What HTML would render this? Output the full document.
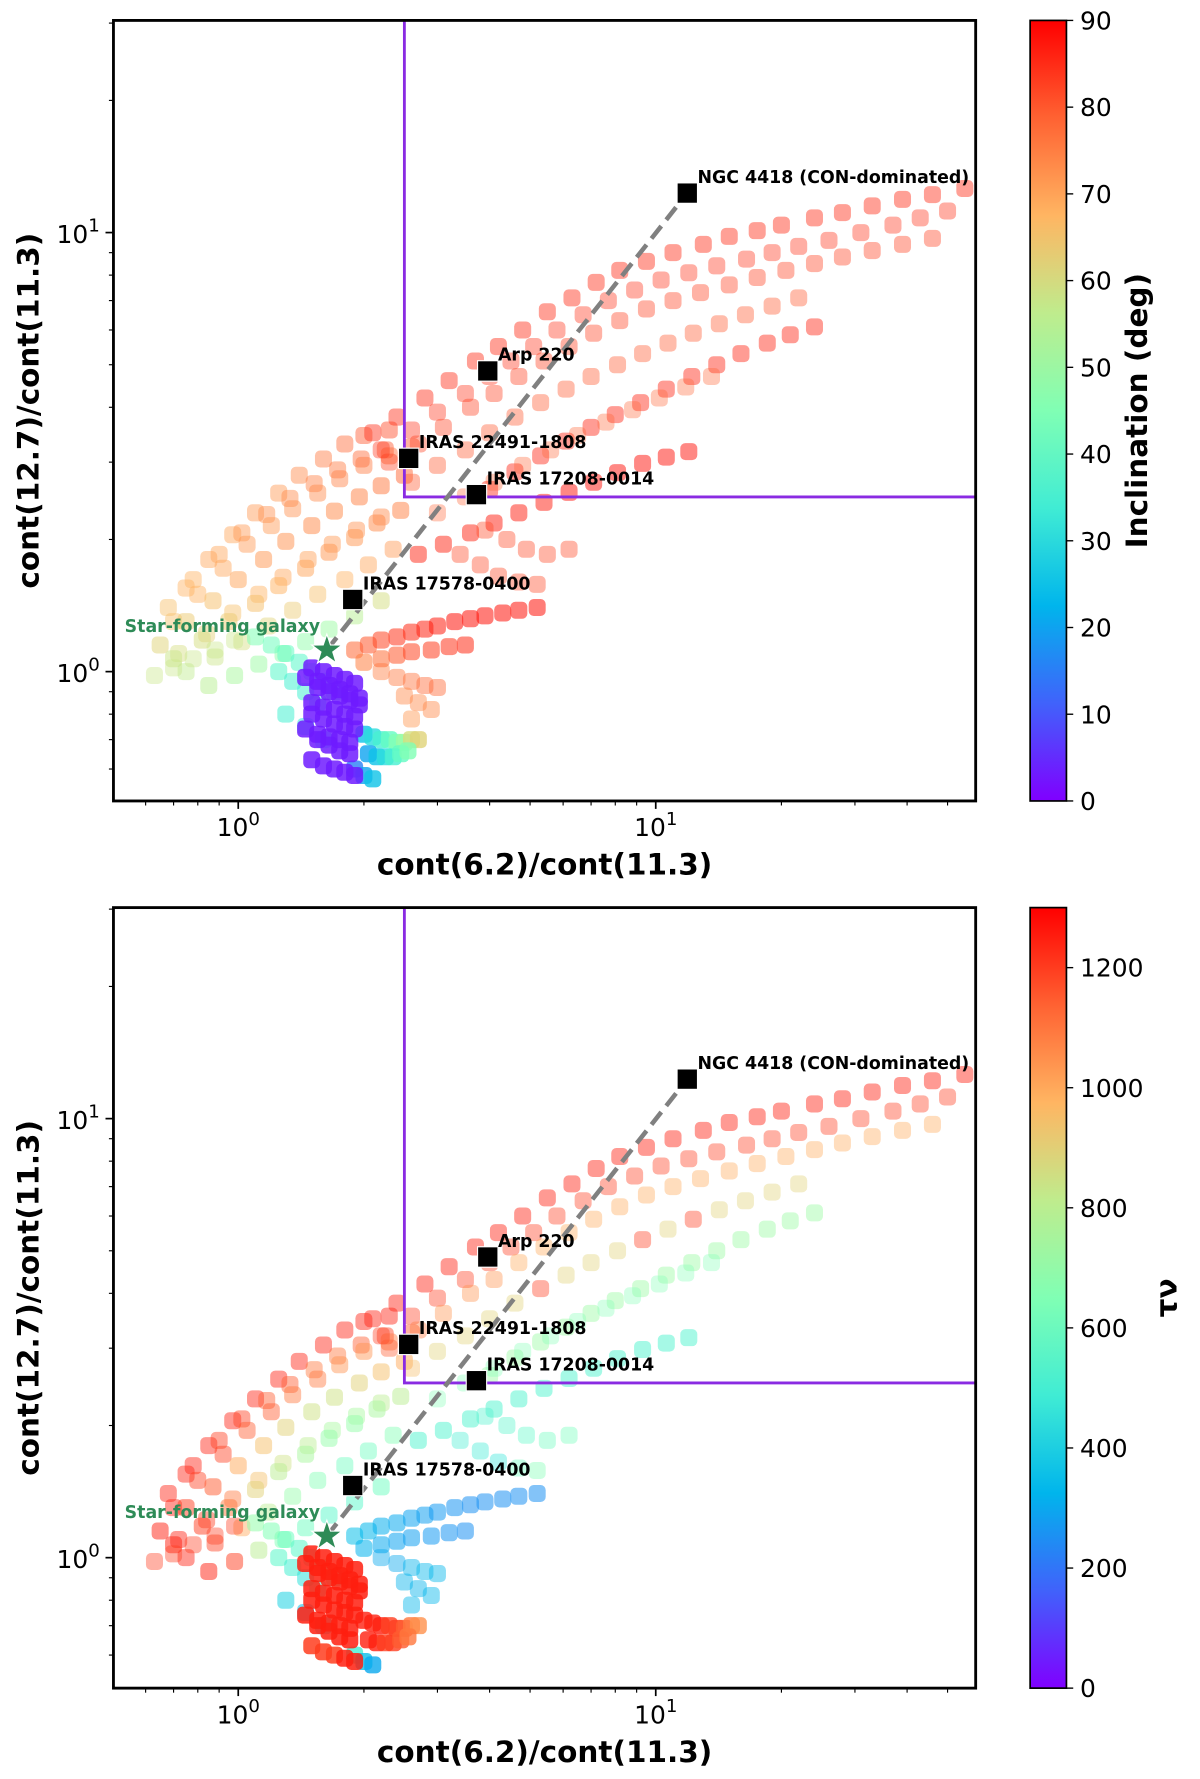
<!DOCTYPE html>
<html><head><meta charset="utf-8"><style>
html,body{margin:0;padding:0;background:#fff;}
svg{display:block;font-family:"DejaVu Sans","Liberation Sans",sans-serif;}
</style></head><body>
<svg id="fig" width="1200" height="1779" viewBox="0 0 1200 1779" xmlns="http://www.w3.org/2000/svg">
<defs>
<linearGradient id="rbw" x1="0" y1="1" x2="0" y2="0">
<stop offset="0" stop-color="rgb(128,0,255)"/><stop offset="0.125" stop-color="rgb(64,98,251)"/>
<stop offset="0.25" stop-color="rgb(0,181,236)"/><stop offset="0.375" stop-color="rgb(64,236,212)"/>
<stop offset="0.5" stop-color="rgb(128,255,180)"/><stop offset="0.625" stop-color="rgb(191,236,141)"/>
<stop offset="0.75" stop-color="rgb(255,181,98)"/><stop offset="0.875" stop-color="rgb(255,98,50)"/>
<stop offset="1" stop-color="rgb(255,0,0)"/>
</linearGradient>
</defs>
<g id="root" transform="scale(1.1345)"></g>
</svg>
<script>
// ---- data (groups of model points) ----
const g1X=[2.1,2.4,2.8,3.2,3.7,4.2,4.8,5.5,6.3,7.2,8.2,9.5,11,13,15,17.5,20,24,28,33,39,46,55];
const g1Y=[3.5,3.8,4.2,4.6,5.1,5.5,6.0,6.6,7.1,7.7,8.2,8.6,9.0,9.4,9.8,10.1,10.4,10.8,11.1,11.5,11.9,12.2,12.6];
const g1Inc=[85,85,85,85,85,85,85,85,85,85,85,85,85,85,85,85,85,85,85,85,85,85,85];
const g1Tau=[1250,1250,1250,1250,1250,1250,1250,1250,1250,1250,1250,1250,1250,1250,1250,1250,1250,1250,1250,1250,1250,1250,1250];
const g1bX=[2.2,2.6,3.0,3.5,4.0,4.5,5.1,5.8,6.7,7.7,8.9,10.3,12,14,16.5,19,22,26,31,37,43,50];
const g1bY=[3.2,3.55,3.9,4.3,4.7,5.1,5.5,6.0,6.5,7.0,7.4,7.8,8.1,8.4,8.7,9.0,9.3,9.6,10.0,10.4,10.8,11.2];
const g1bInc=[84,84,84,84,84,84,84,84,84,84,84,84,84,84,84,84,84,84,84,84,84,84];
const g1bTau=[1200,1200,1200,1200,1200,1200,1200,1200,1200,1200,1200,1200,1200,1200,1200,1200,1200,1200,1200,1200,1200,1200];
const g2X=[2.3,2.7,3.1,3.6,4.1,4.7,5.4,6.2,7.1,8.2,9.5,11,12.8,15,17.5,20.5,24,28,33,39,46];
const g2Y=[3.0,3.3,3.6,4.0,4.3,4.7,5.1,5.5,5.9,6.3,6.7,7.0,7.3,7.6,7.9,8.2,8.5,8.8,9.1,9.4,9.7];
const g2Inc=[83,83,83,83,83,83,83,83,83,83,83,83,83,83,83,83,83,83,83,83,83];
const g2Tau=[1150,1100,1050,1050,1050,1000,1000,1000,1000,1000,1000,1000,1000,1000,1000,1000,1000,1000,1000,1000,1000];
const g3X=[2.6,3.0,3.5,4.0,4.6,5.3,6.1,7.0,8.1,9.3,10.7,12.3,14.2,16.4,19,22];
const g3Y=[2.7,2.95,3.2,3.5,3.8,4.1,4.4,4.7,5.0,5.3,5.6,5.9,6.2,6.5,6.8,7.1];
const g3Inc=[80,80,80,80,80,80,80,80,80,80,80,80,80,80,80,80];
const g3Tau=[950,900,900,900,900,1200,900,900,900,1200,900,1200,900,900,900,900];
const g4X=[4.0,4.6,5.3,6.1,7.0,8.0,9.2,10.6,12.2,14,16,18.5,21,24];
const g4Y=[2.6,2.85,3.1,3.35,3.6,3.85,4.1,4.4,4.7,5.0,5.3,5.6,5.85,6.1];
const g4Inc=[86,86,86,86,86,86,86,86,86,86,86,86,86,86];
const g4Tau=[720,720,720,720,720,720,720,720,720,720,720,720,720,720];
const g5X=[3.0,3.5,4.1,4.8,5.6,6.5,7.6,8.8,10.2,11.8,13.6];
const g5Y=[2.3,2.5,2.7,2.95,3.2,3.45,3.7,3.95,4.2,4.45,4.7];
const g5Inc=[79,79,79,79,79,79,79,79,79,79,79];
const g5Tau=[650,650,650,650,650,650,650,650,650,650,650];
const g6X=[2.7,3.1,3.6,4.1,4.7,5.4,6.2,7.1,8.1,9.3,10.6,12];
const g6Y=[1.85,1.95,2.07,2.18,2.3,2.43,2.56,2.7,2.84,2.98,3.08,3.17];
const g6Inc=[86,86,86,87,87,87,88,88,88,88,88,88];
const g6Tau=[520,520,520,520,520,520,520,520,520,520,520,520];
const g7X=[3.4,3.8,4.2,4.7,5.2,3.9,4.4,4.9,5.5,6.2];
const g7Y=[1.85,1.75,1.65,1.6,1.58,2.1,2.0,1.9,1.85,1.9];
const g7Inc=[82,82,82,82,82,82,82,82,82,82];
const g7Tau=[500,480,460,600,650,520,540,560,600,620];
const faX=[0.75,0.85,0.97,1.1,1.25,1.4,1.6,1.8,2.0,2.3];
const faY=[1.55,1.8,2.05,2.3,2.55,2.8,3.05,3.3,3.45,3.55];
const faInc=[68,70,70,72,72,74,76,78,80,82];
const faTau=[1250,1250,1250,1250,1250,1250,1250,1250,1250,1250];
const fhX=[0.68,0.78,0.9,1.02,1.17,1.33,1.52,1.73,1.97,2.25];
const fhY=[1.4,1.62,1.85,2.07,2.28,2.48,2.68,2.88,3.05,3.2];
const fhInc=[66,68,70,72,73,74,75,76,78,80];
const fhTau=[1250,1250,1200,1200,1150,1150,1100,1100,1150,1200];
const fbX=[0.7,0.8,0.92,1.05,1.2,1.35,1.55,1.75,2.0,2.3,2.6];
const fbY=[1.3,1.5,1.72,1.95,2.15,2.35,2.55,2.75,2.95,3.1,3.25];
const fbInc=[66,68,70,72,72,73,74,75,76,78,80];
const fbTau=[1250,1200,1200,1150,1150,1100,1100,1050,1050,1100,1150];
const fcX=[0.65,0.75,0.87,1.0,1.15,1.3,1.5,1.7,1.95,2.2,2.5];
const fcY=[1.15,1.3,1.45,1.62,1.8,1.98,2.15,2.32,2.5,2.65,2.8];
const fcInc=[62,64,66,70,72,73,74,74,75,76,78];
const fcTau=[1250,1200,1150,1000,950,900,850,850,900,950,1000];
const fiX=[0.72,0.84,0.97,1.12,1.28,1.47,1.68,1.92,2.2];
const fiY=[1.1,1.22,1.36,1.5,1.64,1.8,1.95,2.1,2.25];
const fiInc=[60,63,66,68,70,71,72,73,74];
const fiTau=[1250,1200,1100,950,850,800,750,750,800];
const fdX=[0.7,0.82,0.95,1.1,1.25,1.45,1.65,1.9,2.15,2.45];
const fdY=[1.07,1.18,1.3,1.43,1.57,1.72,1.87,2.02,2.18,2.33];
const fdInc=[58,60,64,66,68,70,72,72,74,75];
const fdTau=[1250,1200,1100,900,800,750,700,700,750,800];
const feX=[0.75,0.88,1.02,1.18,1.35,1.55,1.8,2.05,2.35];
const feY=[1.0,1.08,1.17,1.27,1.38,1.5,1.62,1.75,1.9];
const feInc=[56,58,60,62,64,66,68,70,72];
const feTau=[1250,1200,1000,800,700,650,600,600,650];
const ffX=[0.85,0.98,1.12,1.28,1.45,1.65,1.9,2.2];
const ffY=[0.93,0.98,1.04,1.1,1.17,1.25,1.34,1.45];
const ffInc=[55,52,50,48,48,50,55,60];
const ffTau=[1250,1200,800,650,600,550,550,600];
const fgX=[0.63,0.7,0.78,0.88,0.98];
const fgY=[0.98,1.02,1.07,1.12,1.18];
const fgInc=[58,58,58,58,58];
const fgTau=[1200,1200,1200,1200,1200];
const g9X=[1.1,1.2,1.3,1.4,1.5,1.6,1.25,1.35,1.45,1.55,1.7,1.3,1.45,1.6];
const g9Y=[1.2,1.15,1.1,1.05,1.0,0.95,1.0,0.95,0.9,0.85,0.9,0.8,0.75,0.7];
const g9Inc=[45,42,40,38,40,42,38,35,35,38,40,35,32,35];
const g9Tau=[700,650,600,550,500,600,550,500,450,500,550,400,350,380];
const g12X=[1.9,2.05,2.2,2.4,2.6,2.8,3.0,3.3,3.6,3.9,4.3,4.7,5.2,2.0,2.2,2.4,2.6,2.9,3.2,3.5];
const g12Y=[1.12,1.15,1.18,1.2,1.23,1.25,1.27,1.3,1.32,1.34,1.36,1.38,1.4,1.05,1.07,1.09,1.11,1.12,1.14,1.15];
const g12Inc=[78,80,82,84,85,86,87,88,88,88,88,88,88,75,77,80,82,83,84,85];
const g12Tau=[350,330,310,300,290,280,270,260,250,250,250,250,250,320,300,290,280,270,260,250];
const g13X=[2.2,2.4,2.6,2.8,3.0,2.5,2.7,2.9,2.6];
const g13Y=[1.0,0.97,0.95,0.93,0.92,0.88,0.85,0.82,0.78];
const g13Inc=[75,76,77,78,78,74,74,74,72];
const g13Tau=[300,300,320,330,330,320,320,330,330];
const g11X=[2.0,2.1,2.2,2.3,2.4,2.5,2.6,2.7,2.05,2.15,2.25,2.35,2.45,2.55,1.9,2.0,2.1];
const g11Y=[0.72,0.71,0.7,0.7,0.69,0.69,0.7,0.7,0.65,0.64,0.64,0.64,0.65,0.66,0.6,0.58,0.57];
const g11Inc=[25,30,35,40,45,50,60,62,20,25,30,35,40,45,15,20,25];
const g11Tau=[1250,1250,1250,1200,1200,1150,1100,1050,1250,1250,1200,1200,1150,1100,500,350,300];
const g10X=[1.5,1.6,1.7,1.8,1.9,1.55,1.65,1.75,1.85,1.95,1.5,1.6,1.7,1.8,1.9,1.55,1.65,1.75,1.85,1.5,1.6,1.7,1.8,1.9];
const g10Y=[1.02,1.0,0.98,0.96,0.94,0.92,0.9,0.88,0.86,0.84,0.8,0.78,0.76,0.75,0.74,0.7,0.68,0.66,0.65,0.63,0.61,0.6,0.59,0.58];
const g10Inc=[3,3,3,3,3,3,3,3,3,3,3,3,3,3,3,3,3,3,3,3,3,3,3,3];
const g10Tau=[1250,1250,1250,1250,1250,1250,1250,1250,1250,1250,1250,1250,1250,1250,1250,1250,1250,1250,1250,1200,1200,1200,1250,1250];
const g10bX=[1.45,1.55,1.65,1.75,1.85,1.95,1.5,1.6,1.7,1.8,1.9,1.45,1.55,1.65,1.75,1.85];
const g10bY=[0.97,0.95,0.93,0.91,0.89,0.87,0.85,0.83,0.82,0.8,0.79,0.74,0.72,0.71,0.7,0.69];
const g10bInc=[3,3,3,3,3,3,3,3,3,3,3,3,3,3,3,3];
const g10bTau=[1250,1250,1250,1250,1250,1250,1250,1250,1250,1250,1250,1250,1250,1250,1250,1250];
const galNames=["NGC 4418 (CON-dominated)","Arp 220","IRAS 22491-1808","IRAS 17208-0014","IRAS 17578-0400"];
const galX=[11.9,3.96,2.56,3.72,1.88];
const galY=[12.3,4.84,3.06,2.53,1.46];
const starXY=[1.63,1.12];
const incTicks=[0,10,20,30,40,50,60,70,80,90];
const tauTicks=[0,200,400,600,800,1000,1200];

const groups=[[faX,faY,faInc,faTau,0.45],[fhX,fhY,fhInc,fhTau,0.45],[fbX,fbY,fbInc,fbTau,0.45],[fcX,fcY,fcInc,fcTau,0.5],[fiX,fiY,fiInc,fiTau,0.45],[fdX,fdY,fdInc,fdTau,0.5],
[feX,feY,feInc,feTau,0.45],[ffX,ffY,ffInc,ffTau,0.5],[fgX,fgY,fgInc,fgTau,0.4],[g1X,g1Y,g1Inc,g1Tau,0.45],[g1bX,g1bY,g1bInc,g1bTau,0.4],[g2X,g2Y,g2Inc,g2Tau,0.4],
[g3X,g3Y,g3Inc,g3Tau,0.4],[g4X,g4Y,g4Inc,g4Tau,0.45],[g5X,g5Y,g5Inc,g5Tau,0.35],[g6X,g6Y,g6Inc,g6Tau,0.5],[g7X,g7Y,g7Inc,g7Tau,0.4],
[g9X,g9Y,g9Inc,g9Tau,0.55],[g13X,g13Y,g13Inc,g13Tau,0.45],[g12X,g12Y,g12Inc,g12Tau,0.55],[g11X,g11Y,g11Inc,g11Tau,0.8],[g10X,g10Y,g10Inc,g10Tau,0.85],[g10bX,g10bY,g10bInc,g10bTau,0.85]];

const NS="http://www.w3.org/2000/svg";
const svg=document.getElementById('root');
function el(tag,attrs,parent){const e=document.createElementNS(NS,tag);for(const k in attrs)e.setAttribute(k,attrs[k]);(parent||svg).appendChild(e);return e;}
function rainbow(t){t=Math.max(0,Math.min(1,t));const r=Math.min(1,Math.abs(2*t-0.5)),g=Math.sin(Math.PI*t),b=Math.cos(Math.PI*t/2);
return `rgb(${Math.round(r*255)},${Math.round(g*255)},${Math.round(b*255)})`;}
const L=100,R=860,X0=210,DEC_X=368,DEC_Y=387;
const xs=v=>X0+Math.log10(v)*DEC_X;

function panel(top,yOne,cIdx,cMax,ticks,cLabel,pname){
  const B=top+688;
  const ys=v=>yOne-Math.log10(v)*DEC_Y;
  const g=el('g',{});
  
  
  const clip=el('clipPath',{id:'c'+top},g);el('rect',{x:L,y:top,width:R-L,height:B-top},clip);
  const pts=el('g',{'clip-path':`url(#c${top})`},g);
  
  
  groups.forEach(gr=>{const X=gr[0],Y=gr[1],C=gr[cIdx],op=gr[4];
    for(let i=0;i<X.length;i++){
      const r=el('rect',{x:xs(X[i])-7.5,y:ys(Y[i])-7.5,width:15,height:15,rx:4.5,fill:rainbow(C[i]/cMax),'fill-opacity':op},pts);
      
      
    }});
  const vx=xs(2.5),hy=ys(2.5);
  const pl=el('path',{d:`M${vx},${top} L${vx},${hy} L${R},${hy}`,stroke:'#8a2be2',"stroke-width":2.5,fill:'none'},g);
  
  
  const dl=el('line',{x1:xs(starXY[0]),y1:ys(starXY[1]),x2:xs(galX[0]),y2:ys(galY[0]),stroke:'#808080','stroke-width':4,'stroke-dasharray':'14,7'},g);
  
  
  galNames.forEach((n,i)=>{const cx=xs(galX[i]),cy=ys(galY[i]);
    const m=el('rect',{x:cx-9,y:cy-9,width:18,height:18,fill:'#000',stroke:'#fff','stroke-width':1},g);
    
    
    const t=el('text',{x:cx+9,y:cy-9,'font-size':15.3,'font-weight':'bold',fill:'#000'},g);t.textContent=n;
    
    });
  const sx=xs(starXY[0]),sy=ys(starXY[1]);let d='';
  for(let k=0;k<10;k++){const a=-Math.PI/2+k*Math.PI/5,rr=k%2?5.5:14;d+=(k?'L':'M')+(sx+rr*Math.cos(a)).toFixed(1)+','+(sy+rr*Math.sin(a)).toFixed(1);}
  const st=el('path',{d:d+'Z',fill:'#2e8b57',stroke:'#fff','stroke-width':1},g);
  
  
  const sl=el('text',{x:sx-6,y:sy-16,'font-size':15.3,'font-weight':'bold',fill:'#2e8b57','text-anchor':'end'},g);sl.textContent='Star-forming galaxy';
  
  
  const fr=el('rect',{x:L,y:top,width:R-L,height:B-top,fill:'none',stroke:'#000','stroke-width':2.5},g);
  
  
  for(let e=-1;e<=1;e++)for(let m=1;m<10;m++){const v=m*Math.pow(10,e),x=xs(v);if(x<L||x>R)continue;
    el('line',{x1:x,y1:B,x2:x,y2:B+(m==1?7:4),stroke:'#000','stroke-width':m==1?1.5:1},g);}
  [[1,'0'],[10,'1']].forEach(([v,e])=>{const t=el('text',{x:xs(v),y:B+31,'font-size':22,'text-anchor':'middle'},g);
    t.innerHTML=`10<tspan dy="-10" font-size="16">${e}</tspan>`;
    
    });
  for(let e=-1;e<=1;e++)for(let m=1;m<10;m++){const v=m*Math.pow(10,e),y=ys(v);if(y<top||y>B)continue;
    el('line',{x1:L,y1:y,x2:L-(m==1?7:4),y2:y,stroke:'#000','stroke-width':m==1?1.5:1},g);}
  [[1,'0'],[10,'1']].forEach(([v,e])=>{const t=el('text',{x:88,y:ys(v)+9,'font-size':22,'text-anchor':'end'},g);
    t.innerHTML=`10<tspan dy="-10" font-size="16">${e}</tspan>`;
    
    });
  const xt=el('text',{x:480,y:B+65,'font-size':26,'font-weight':'bold','text-anchor':'middle'},g);xt.textContent='cont(6.2)/cont(11.3)';
  
  
  const yt=el('text',{x:0,y:0,'font-size':26,'font-weight':'bold','text-anchor':'middle',transform:`translate(34,${(top+B)/2}) rotate(-90)`},g);yt.textContent='cont(12.7)/cont(11.3)';
  
  
  const cb=el('rect',{x:908,y:top,width:32,height:B-top,fill:'url(#rbw)',stroke:'#000','stroke-width':1.5},g);
  
  
  ticks.forEach(v=>{const y=B-(v/cMax)*(B-top);el('line',{x1:940,y1:y,x2:946,y2:y,stroke:'#000','stroke-width':1.2},g);
    const t=el('text',{x:952,y:y+8,'font-size':22},g);t.textContent=v;
    
    });
  const ct=el('text',{x:0,y:0,'font-size':26,'font-weight':'bold','text-anchor':'middle',transform:`translate(${cLabel[1]},${(top+B)/2}) rotate(-90)`},g);ct.textContent=cLabel[0];
  
  
}
panel(18,592,2,90,incTicks,['Inclination (deg)',1011],'inclination-panel');
panel(800,1373,3,1300,tauTicks,['τν',1037],'tau-panel');
</script>
</body></html>
